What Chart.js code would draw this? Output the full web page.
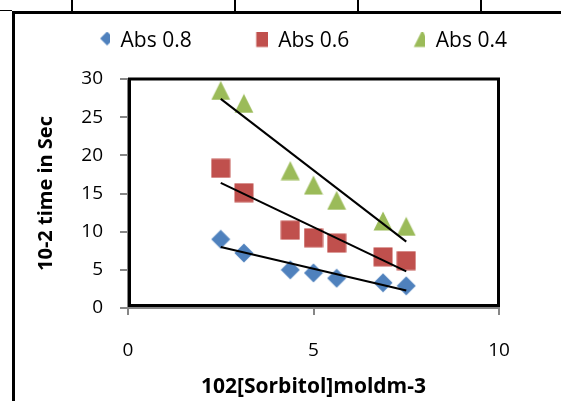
<!DOCTYPE html>
<html>
<head>
<meta charset="utf-8">
<script src="https://cdn.jsdelivr.net/npm/chart.js@4.4.1/dist/chart.umd.min.js"></script>
<style>
  html, body { margin: 0; padding: 0; background: #fff; }
  #wrap { position: relative; width: 561px; height: 401px; overflow: hidden; }
  #chart { position: absolute; left: 0; top: 0; }
  .rule { position: absolute; background: #000; }
</style>
</head>
<body>
<div id="wrap">
  <!-- table borders around the chart -->
  <div class="rule" style="left:0;top:10px;width:12px;height:1px"></div>
  <div class="rule" style="left:12px;top:11px;width:549px;height:3px"></div>
  <div class="rule" style="left:12px;top:11px;width:3px;height:390px"></div>
  <div class="rule" style="left:71px;top:0;width:2px;height:11px"></div>
  <div class="rule" style="left:234px;top:0;width:2px;height:11px"></div>
  <div class="rule" style="left:357px;top:0;width:2px;height:11px"></div>
  <div class="rule" style="left:480px;top:0;width:2px;height:11px"></div>
  <canvas id="chart" width="561" height="401"></canvas>
</div>
<script>
// data
const concentration = [2.5, 3.125, 4.375, 5, 5.625, 6.875, 7.5];
const abs08 = [9.0, 7.2, 5.0, 4.6, 3.9, 3.3, 2.9];
const abs06 = [18.3, 15.1, 10.2, 9.2, 8.5, 6.7, 6.2];
const abs04 = [28.5, 26.8, 18.0, 16.1, 14.1, 11.4, 10.7];

// trendline ends (x = 2.5 and 7.5)
const trendX = [2.5, 7.5];
const trend08 = [8.0, 2.3];
const trend06 = [16.4, 4.8];
const trend04 = [27.4, 8.7];

const seriesNames = ["Abs 0.8", "Abs 0.6", "Abs 0.4"];
const seriesColors = ["#4F81BD", "#C0504D", "#9BBB59"];
const seriesShapes = ["diamond", "square", "triangle"];
const xTicks = [0, 5, 10];
const yTicks = [0, 5, 10, 15, 20, 25, 30];

const gray = "#868686";
const font = "'Open Sans', sans-serif";

// small canvas used as a point style (marker drawn at cx, cy)
function makeMarker(shape, color, size, boxW, cx, cy) {
  var c = document.createElement("canvas");
  c.width = boxW;
  c.height = 20;
  var g = c.getContext("2d");
  var h = size / 2;
  g.fillStyle = color;
  g.beginPath();
  if (shape === "diamond") {
    g.moveTo(cx, cy - h);
    g.lineTo(cx + h, cy);
    g.lineTo(cx, cy + h);
    g.lineTo(cx - h, cy);
  } else if (shape === "square") {
    g.rect(cx - h, cy - h, size, size);
  } else {
    g.moveTo(cx, cy - h);
    g.lineTo(cx + h, cy + h);
    g.lineTo(cx - h, cy + h);
  }
  g.closePath();
  g.fill();
  return c;
}

const legendBoxW = 56;
const legendSizes = [14, 17, 17];
const legendIcons = seriesShapes.map(function (s, i) {
  return makeMarker(s, seriesColors[i], legendSizes[i], legendBoxW, legendBoxW - 3, 7);
});
const pointIcons = seriesShapes.map(function (s, i) {
  return makeMarker(s, seriesColors[i], 19, 20, 10, 10);
});

function points(ys) {
  return concentration.map(function (x, i) { return { x: x, y: ys[i] }; });
}
function trend(ys) {
  return trendX.map(function (x, i) { return { x: x, y: ys[i] }; });
}

// black frame round the plot area
const plotFrame = {
  id: "plotFrame",
  beforeDatasetsDraw(chart) {
    const a = chart.chartArea;
    const ctx = chart.ctx;
    ctx.save();
    ctx.strokeStyle = "#000";
    ctx.lineWidth = 3;
    ctx.strokeRect(a.left + 1.5, a.top, a.right - 0.5 - (a.left + 1.5), a.bottom - 2.5 - a.top);
    ctx.restore();
  },
};

Chart.defaults.font.family = font;
Chart.defaults.color = "#000";

const datasets = [];
[abs08, abs06, abs04].forEach(function (ys, i) {
  datasets.push({
    label: seriesNames[i],
    data: points(ys),
    pointStyle: pointIcons[i],
    backgroundColor: seriesColors[i],
    borderColor: seriesColors[i],
    showLine: false,
    order: 1,
  });
});
[trend08, trend06, trend04].forEach(function (ys) {
  datasets.push({
    label: "trend",
    data: trend(ys),
    showLine: true,
    pointRadius: 0,
    borderColor: "#000",
    borderWidth: 2,
    order: 0,
  });
});

new Chart(document.getElementById("chart"), {
  type: "scatter",
  data: { datasets: datasets },
  plugins: [plotFrame],
  options: {
    responsive: false,
    animation: false,
    layout: { padding: { top: 11, left: 0, right: 0, bottom: 0 } },
    plugins: {
      tooltip: { enabled: false },
      legend: {
        position: "top",
        labels: {
          usePointStyle: true,
          pointStyleWidth: legendBoxW,
          padding: 20,
          color: "#000",
          font: { family: font, size: 21 },
          generateLabels: function () {
            return seriesNames.map(function (name, i) {
              return {
                text: name,
                pointStyle: legendIcons[i],
                fillStyle: seriesColors[i],
                strokeStyle: seriesColors[i],
                lineWidth: 0,
                hidden: false,
                datasetIndex: i,
              };
            });
          },
        },
      },
    },
    scales: {
      x: {
        type: "linear",
        position: "bottom",
        min: xTicks[0],
        max: xTicks[xTicks.length - 1],
        ticks: { stepSize: xTicks[1] - xTicks[0], padding: 24, font: { size: 19 }, color: "#000" },
        grid: { drawOnChartArea: false, drawTicks: true, tickLength: 7, color: gray, lineWidth: 2 },
        border: { display: true, color: gray, width: 2 },
        title: {
          display: true,
          text: "102[Sorbitol]moldm-3",
          font: { size: 21, weight: "bold" },
          color: "#000",
          padding: { top: 0, bottom: 1 },
        },
        afterFit: function (s) { s.height = 93; },
      },
      y: {
        type: "linear",
        position: "left",
        min: yTicks[0],
        max: yTicks[yTicks.length - 1],
        ticks: { stepSize: yTicks[1] - yTicks[0], padding: 17, font: { size: 19 }, color: "#000" },
        grid: { drawOnChartArea: false, drawTicks: true, tickLength: 8, color: gray, lineWidth: 2 },
        border: { display: true, color: gray, width: 2 },
        title: {
          display: true,
          text: "10-2 time in Sec",
          font: { size: 20, weight: "bold" },
          color: "#000",
          padding: { top: 34, bottom: 0 },
        },
        afterFit: function (s) { s.width = 128; },
      },
      // spacers so the plot box sits where it does in the picture
      xTop: {
        type: "linear",
        position: "top",
        ticks: { display: false },
        grid: { display: false },
        border: { display: false },
        afterFit: function (s) { s.height = 17; },
      },
      yRight: {
        type: "linear",
        position: "right",
        ticks: { display: false },
        grid: { display: false },
        border: { display: false },
        afterFit: function (s) { s.width = 62; },
      },
    },
  },
});
</script>
</body>
</html>
